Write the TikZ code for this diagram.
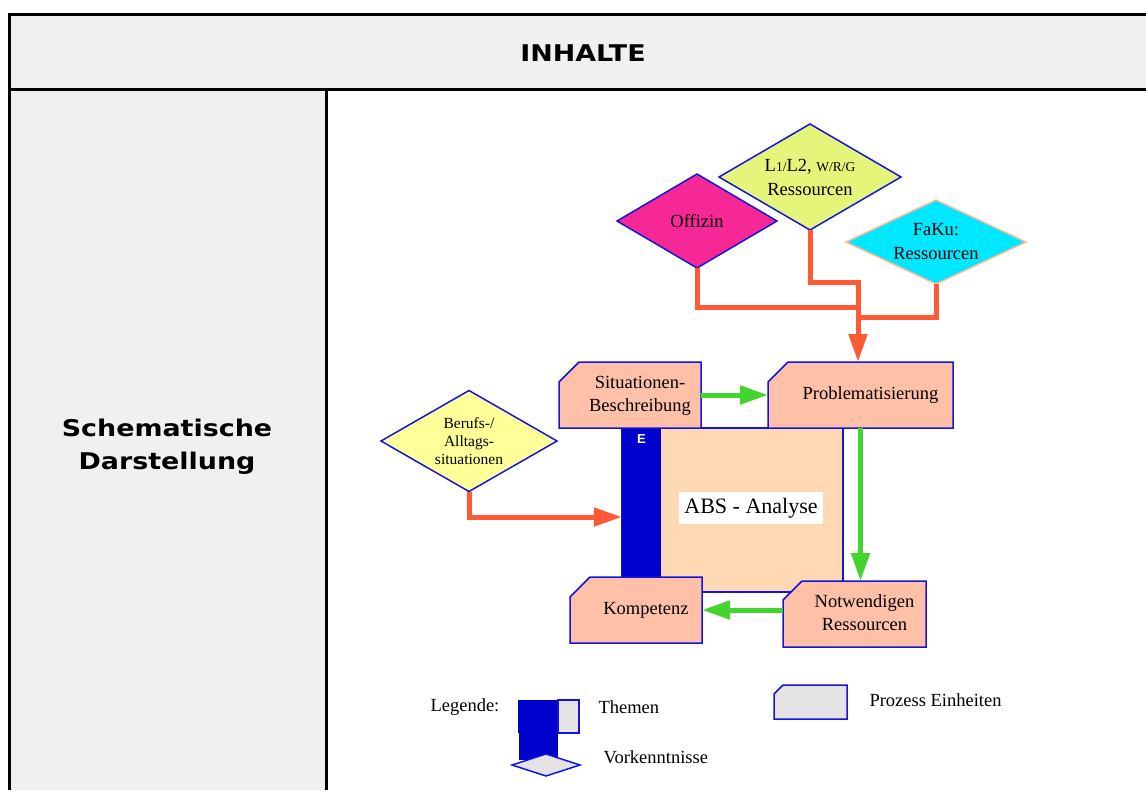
\documentclass[tikz,border=0pt]{standalone}
\usepackage{fontspec}
\setmainfont{Liberation Serif}
\newfontfamily\kopffont{DejaVu Sans}[FakeStretch=1.17]
\newfontfamily\arialfont{Liberation Sans}
\usetikzlibrary{arrows.meta,shapes.geometric}
\pgfdeclarelayer{background}
\pgfsetlayers{background,main}

\definecolor{tabgrau}{RGB}{240,240,240}
\definecolor{randblau}{RGB}{20,20,225}
\definecolor{themenblau}{RGB}{0,0,204}
\definecolor{pfeilrot}{RGB}{255,90,54}
\definecolor{pfeilgruen}{RGB}{68,212,48}
\definecolor{boxlachs}{RGB}{255,192,168}
\definecolor{analysepfirsich}{RGB}{255,216,180}
\definecolor{offizinpink}{RGB}{245,40,150}
\definecolor{ressourcengelb}{RGB}{229,245,122}
\definecolor{fakucyan}{RGB}{0,232,255}
\definecolor{fakurand}{RGB}{255,184,154}
\definecolor{berufsgelb}{RGB}{255,255,153}
\definecolor{legendgrau}{RGB}{228,226,226}

% Text in den Prozess-Einheiten, etwas nach rechts geschoben
\newcommand{\ptext}[1]{\hspace*{20pt}\begin{tabular}{@{}c@{}}#1\end{tabular}}
% Prozess-Einheit mit abgeschraegter Ecke oben links
\newcommand{\kantenbox}[3]{%
  \filldraw[boxrand, fill=#3] (#1.south west) -- ([yshift=-#2]#1.north west)
    -- ([xshift=#2]#1.north west) -- (#1.north east) -- (#1.south east) -- cycle;}

\begin{document}
\begin{tikzpicture}[x=1pt, y=-1pt,
    tabline/.style={line width=3pt, black},
    kopftext/.style={font=\kopffont\bfseries\fontsize{23}{33}\selectfont, align=center},
    raute/.style={diamond, draw=randblau, line width=1.5pt, inner sep=-4pt, outer sep=0pt,
      align=center, font=\fontsize{18.5}{24}\selectfont},
    prozess/.style={rectangle, inner sep=0pt, outer sep=0pt, minimum height=66pt,
      font=\fontsize{18.5}{23}\selectfont},
    boxrand/.style={draw=randblau, line width=1.5pt},
    rotpfeil/.style={draw=pfeilrot, line width=5pt, line join=miter},
    gruenpfeil/.style={draw=pfeilgruen, line width=5pt},
    spitze/.style={-{Triangle[length=28pt,width=18pt]}},
    legtext/.style={anchor=west, font=\fontsize{18.5}{22}\selectfont},
  ]
  \useasboundingbox (0,0) rectangle (1146,790);

  % Tabelle
  \fill[tabgrau] (9,14) rectangle (1146,89);
  \fill[tabgrau] (9,89) rectangle (326,790);
  \draw[tabline] (1146,14) -- (9,14) -- (9,790);
  \draw[tabline] (9,89) -- (1146,89);
  \draw[tabline] (326,89) -- (326,790);
  \node[kopftext] (inhalte) at (583,53) {INHALTE};
  \node[kopftext] (schema) at (167,447) {Schematische\\Darstellung};

  % Rauten
  \node[raute, fill=offizinpink, aspect=1.70, minimum width=160pt, minimum height=94pt]
    (offizin) at (697,221) {Offizin};
  \node[raute, fill=ressourcengelb, aspect=1.72, minimum width=182pt, minimum height=106pt]
    (l1l2) at (810,177)
    {L{\fontsize{13.5}{16}\selectfont 1/}L2, {\fontsize{13.5}{16}\selectfont W/R/G}\\Ressourcen};
  \node[raute, draw=fakurand, fill=fakucyan, aspect=2.14, minimum width=180pt, minimum height=84pt]
    (faku) at (936,242) {FaKu:\\Ressourcen};
  \node[raute, fill=berufsgelb, aspect=1.74, minimum width=176pt, minimum height=101pt,
    font=\fontsize{15.5}{18}\selectfont] (berufs) at (469,441) {Berufs-/\\Alltags-\\situationen};

  % Prozess-Einheiten
  \node[prozess, minimum width=142pt] (situ) at (630,395) {\ptext{Situationen-\\Beschreibung}};
  \node[prozess, minimum width=185pt] (problem) at (860.5,395) {\ptext{Problematisierung}};
  \node[prozess, minimum width=132pt] (kompetenz) at (636,610) {\ptext{Kompetenz}};
  \node[prozess, minimum width=143pt] (notw) at (854.5,614) {\ptext{Notwendigen\\Ressourcen}};
  \node[prozess, minimum width=73pt, minimum height=34pt] (legbox) at (810.5,702) {};

  \begin{pgfonlayer}{background}
    \node[draw=randblau, line width=1.5pt, fill=analysepfirsich, minimum width=221pt,
      minimum height=164pt, inner sep=0pt] (analyse) at (732.5,510) {};
    \node[fill=themenblau, minimum width=39pt, minimum height=150pt, inner sep=0pt,
      label={[anchor=north, yshift=-7pt, inner sep=0pt, text=white,
        font=\arialfont\bfseries\fontsize{13}{15}\selectfont]north:E}] (balken) at (641.5,503) {};
    \kantenbox{situ}{20pt}{boxlachs}
    \kantenbox{problem}{20pt}{boxlachs}
    \kantenbox{kompetenz}{20pt}{boxlachs}
    \kantenbox{notw}{19pt}{boxlachs}
    \kantenbox{legbox}{9pt}{legendgrau}
  \end{pgfonlayer}
  \node[fill=white, inner xsep=5pt, inner ysep=6pt, font=\fontsize{22}{26}\selectfont]
    (abstext) at (751,508) {ABS - Analyse};

  % Pfeile
  \coordinate (knick1) at (858,282);
  \coordinate (knick2) at (858,307);
  \coordinate (knick3) at (858,317);
  \draw[rotpfeil, spitze] (l1l2.south) |- (knick1) -- (knick1 |- problem.north);
  \draw[rotpfeil] (offizin.south) |- (knick2);
  \draw[rotpfeil] (faku.south) |- (knick3);
  \draw[rotpfeil, spitze] (berufs.south) |- ([yshift=-14pt]balken.west);
  \draw[gruenpfeil, spitze] (situ.east) -- (problem.west);
  \draw[gruenpfeil, spitze] (problem.south) -- (problem.south |- notw.north);
  \draw[gruenpfeil, spitze] (notw.west |- kompetenz.east) -- (kompetenz.east);

  % Legende
  \node[legtext] (legende) at (427,707) {Legende:};
  \fill[themenblau] (518,700) rectangle (558,733);
  \filldraw[boxrand, fill=legendgrau] (558,700) rectangle (579,733);
  \fill[themenblau] (519,733) rectangle (558,760);
  \filldraw[boxrand, fill=legendgrau] (512,765) -- (546,754) -- (580,765) -- (546,776) -- cycle;
  \node[legtext] (themen) at (595,707) {Themen};
  \node[legtext] (vorkennt) at (600,757) {Vorkenntnisse};
  \node[legtext] (einheiten) at (866,700) {Prozess Einheiten};
\end{tikzpicture}
\end{document}
